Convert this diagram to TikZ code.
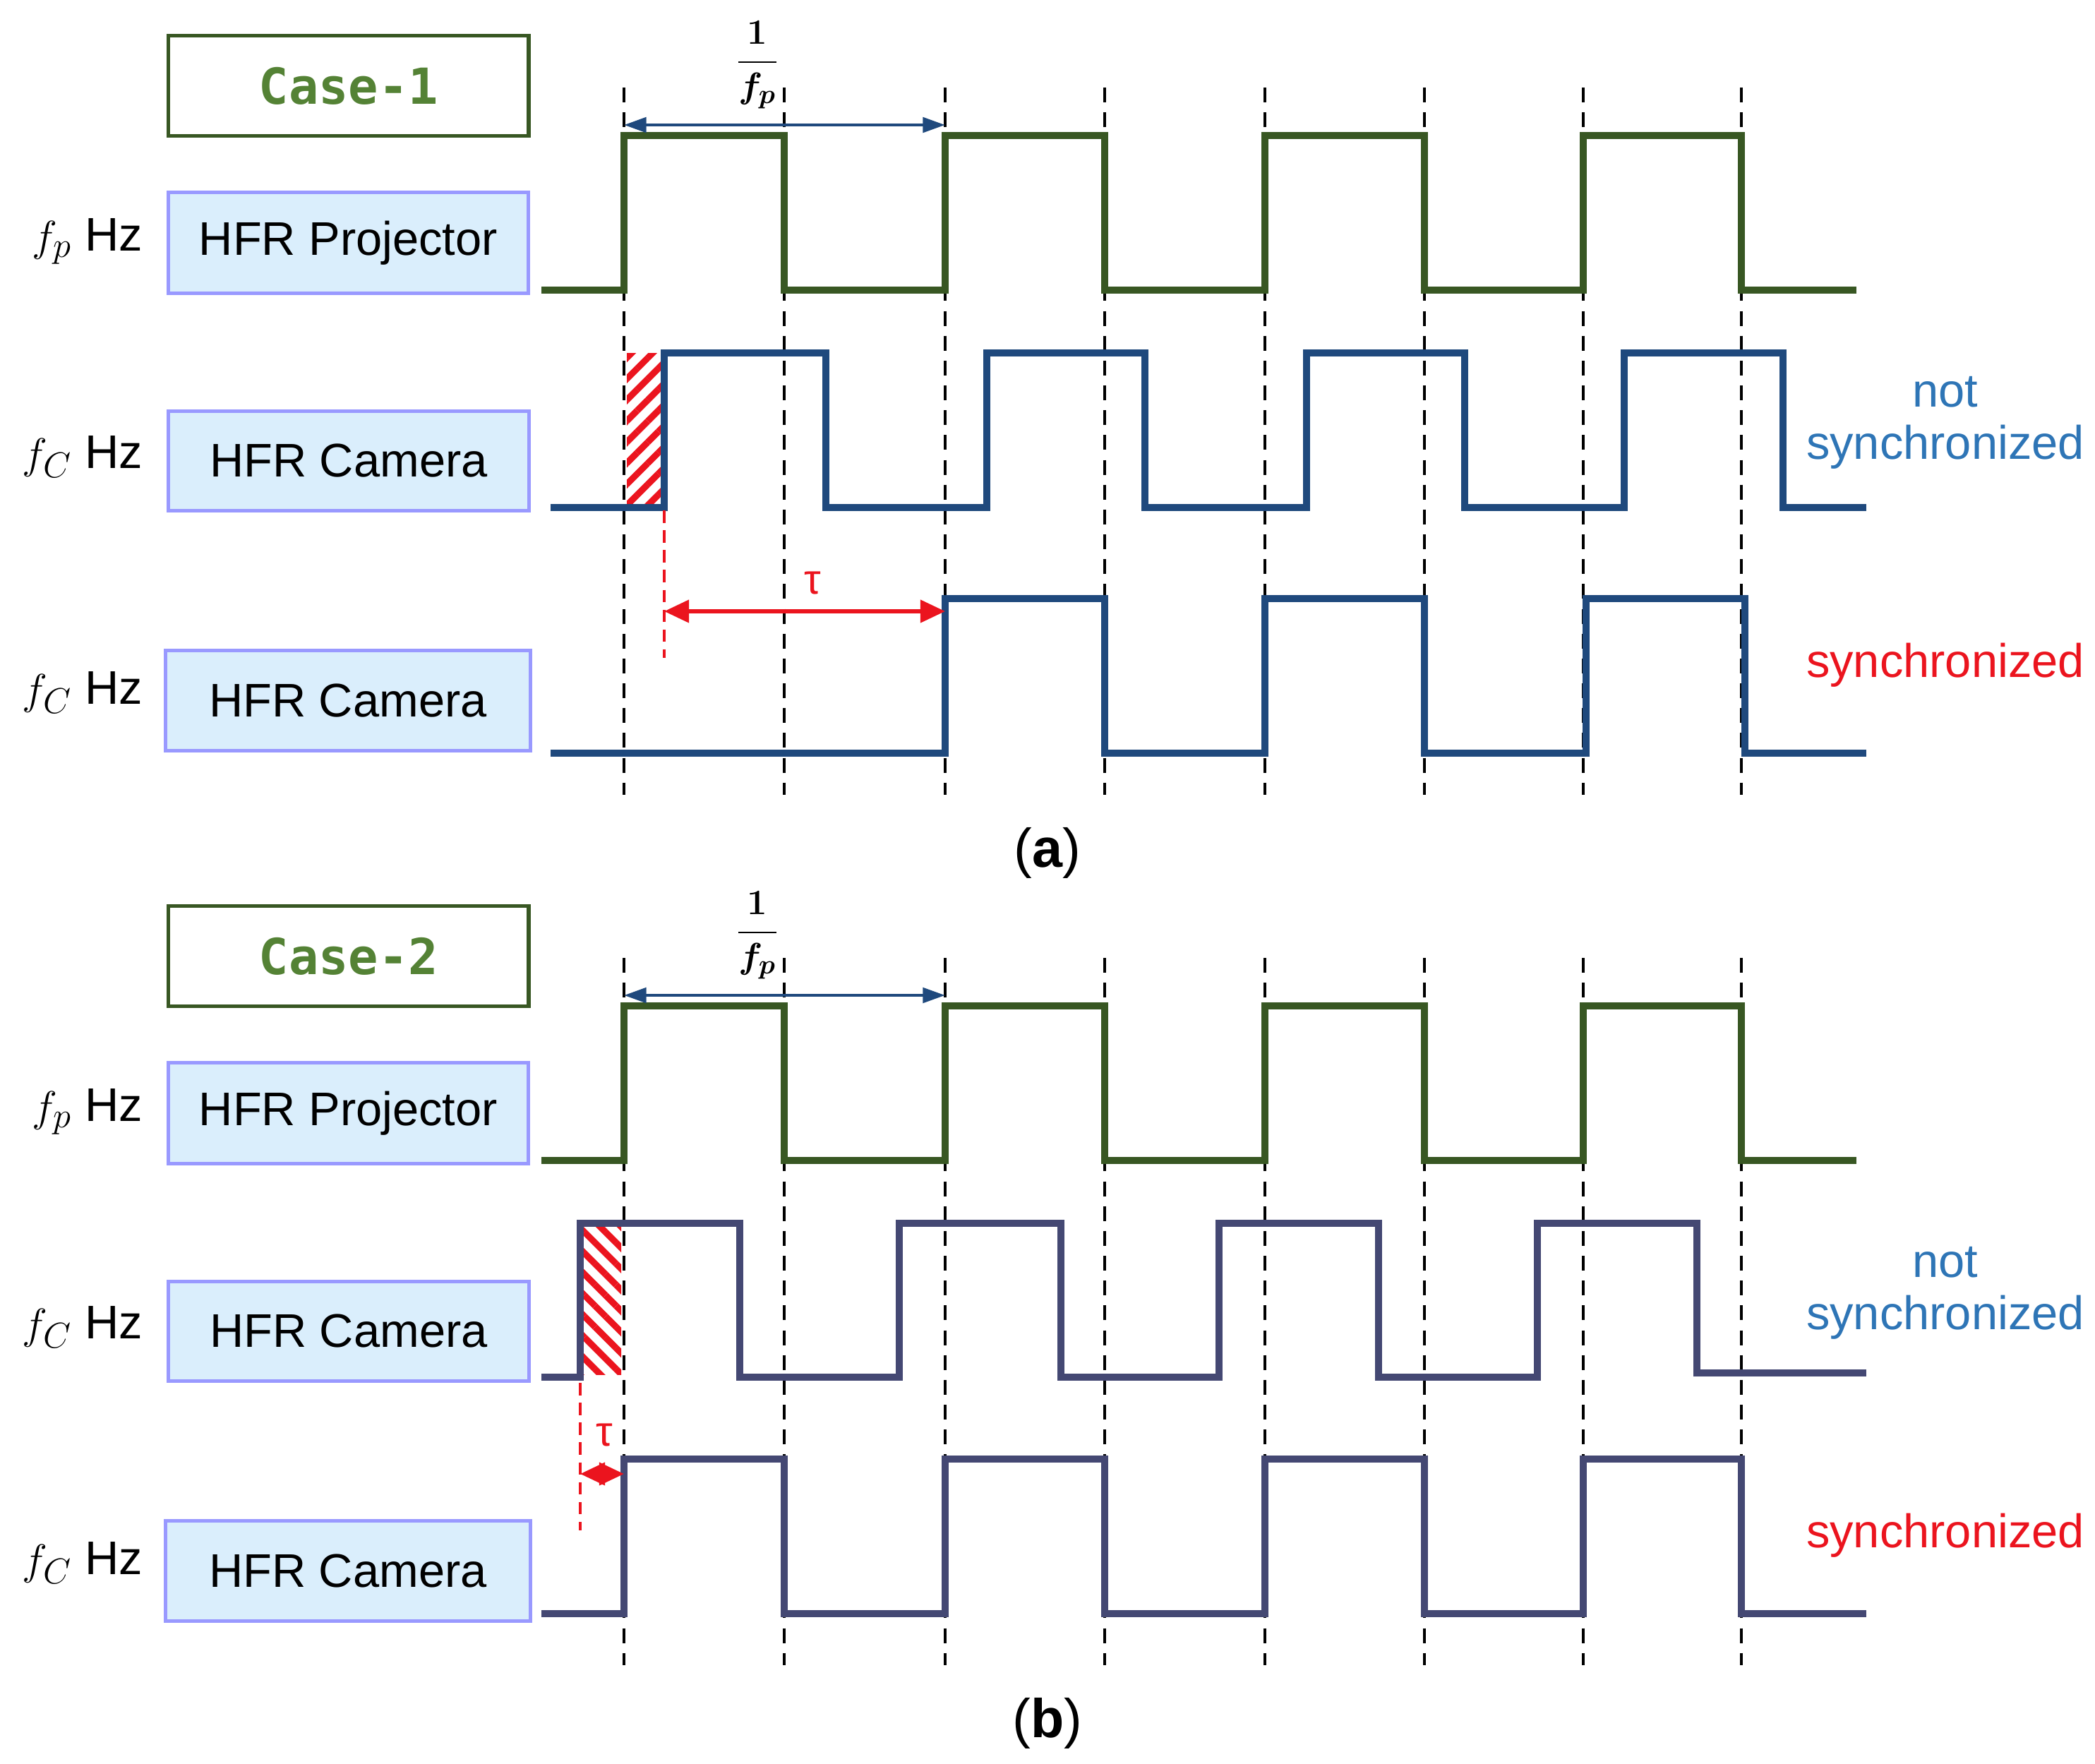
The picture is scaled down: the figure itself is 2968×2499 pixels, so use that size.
\documentclass[tikz,border=0pt]{standalone}
\usepackage{amsmath,bm}
\usepackage{fontspec}
\setmainfont{Liberation Sans}
\newfontfamily\monob{DejaVu Sans Mono}
\usetikzlibrary{arrows.meta,patterns.meta}
\definecolor{pg}{RGB}{56,87,35}
\definecolor{cg}{RGB}{84,130,53}
\definecolor{ca}{RGB}{31,73,125}
\definecolor{cb}{RGB}{68,72,115}
\definecolor{bf}{RGB}{218,238,252}
\definecolor{bd}{RGB}{153,153,255}
\definecolor{sb}{RGB}{46,117,182}
\definecolor{sr}{RGB}{235,20,30}
\begin{document}
\begin{tikzpicture}[x=0.01cm,y=-0.01cm,
  box/.style={draw=bd,fill=bf,line width=1.3pt,anchor=north west,inner sep=0pt,font=\fontsize{19}{23}\selectfont},
  lab/.style={font=\fontsize{19}{23}\selectfont},
  sig/.style={line width=2.8pt},
  grid/.style={black,line width=1.1pt,dash pattern=on 6pt off 4pt},
  rdash/.style={sr,line width=1pt,dash pattern=on 5pt off 3pt},
  rarr/.style={sr,line width=1.6pt,{Triangle[length=10pt,width=9pt]}-{Triangle[length=10pt,width=9pt]}},
  barr/.style={ca,line width=1.4pt,{Triangle[length=9pt,width=6pt]}-{Triangle[length=9pt,width=6pt]}}]
\useasboundingbox (0,0) rectangle (2968,2499);
\foreach \dy/\n/\lbl in {0/1/a,1233/2/b}{
\begin{scope}[yshift=-\dy*0.01cm]
\foreach \x in {884,1111,1339,1565,1792,2018,2243,2467}
  \draw[grid] (\x,124) -- (\x,1126);
\node[draw=pg,line width=1.5pt,minimum width=5.1cm,minimum height=1.42cm,anchor=north west,inner sep=0pt,text=cg,font=\monob\bfseries\fontsize{20}{24}\selectfont] (case\n) at (236,48) {Case-\n};
\node[box,minimum width=5.1cm,minimum height=1.43cm] (proj\n) at (236,270) {HFR Projector};
\node[lab] (fp\n) at (124,342) {$f_p$ Hz};
\draw[sig,pg] (767,411) -- (884,411) |- (1111,192) |- (1339,411) |- (1565,192) |- (1792,411) |- (2018,192) |- (2243,411) |- (2467,192) |- (2630,411);
\coordinate (fa\n) at (884,177); \coordinate (fb\n) at (1339,177);
\draw[barr] (fa\n) -- (fb\n);
\node[font=\fontsize{15}{18}\selectfont] (fr\n) at (1073,92) {$\bm{\dfrac{1}{f_p}}$};
\node (l\n) at (1484,1208) {\fontsize{22}{26}\selectfont\rmfamily(\textbf{\lbl})};
\node[box,minimum width=5.11cm,minimum height=1.41cm] (cam\n) at (236,580) {HFR Camera};
\node[lab] (fc\n) at (117,647) {$f_C$ Hz};
\node[box,minimum width=5.17cm,minimum height=1.42cm] (camb\n) at (232,919) {HFR Camera};
\node[lab] (fcb\n) at (117,981) {$f_C$ Hz};
\node[lab,text=sb,align=center] (ns\n) at (2756,599) {not\\[-2pt]synchronized};
\node[lab,text=sr] (sy\n) at (2756,942) {synchronized};
\end{scope}}
% panel a cameras
\fill[pattern={Lines[angle=45,distance=6pt,line width=2.6pt]},pattern color=sr] (888,500) rectangle (936,717);
\draw[sig,ca] (780,719) -- (941,719) |- (1170,500) |- (1398,719) |- (1622,500) |- (1851,719) |- (2075,500) |- (2301,719) |- (2526,500) |- (2644,719);
\draw[sig,ca] (780,1067) -- (1339,1067) |- (1565,848) |- (1792,1067) |- (2018,848) |- (2247,1067) |- (2472,848) |- (2644,1067);
\coordinate (ta) at (941,866); \coordinate (tb) at (1339,866);
\draw[rdash] (941,723) -- (941,932);
\draw[rarr] (ta) -- (tb);
\node[sr,font=\fontsize{17}{20}\selectfont] (tau1) at (1151,826) {τ};
% panel b cameras
\fill[pattern={Lines[angle=-45,distance=6pt,line width=2.6pt]},pattern color=sr] (826,1738) rectangle (880,1947);
\draw[sig,cb] (767,1951) -- (822,1951) |- (1048,1733) |- (1274,1951) |- (1503,1733) |- (1727,1951) |- (1953,1733) |- (2178,1951) |- (2404,1733) |- (2644,1945);
\draw[sig,cb] (767,2286) -- (884,2286) |- (1111,2067) |- (1339,2286) |- (1565,2067) |- (1792,2286) |- (2018,2067) |- (2243,2286) |- (2467,2067) |- (2644,2286);
\coordinate (tc) at (822,2088); \coordinate (td) at (884,2088);
\draw[rdash] (822,1959) -- (822,2168);
\draw[rarr] (tc) -- (td);
\node[sr,font=\fontsize{17}{20}\selectfont] (tau2) at (856,2033) {τ};
\end{tikzpicture}
\end{document}
